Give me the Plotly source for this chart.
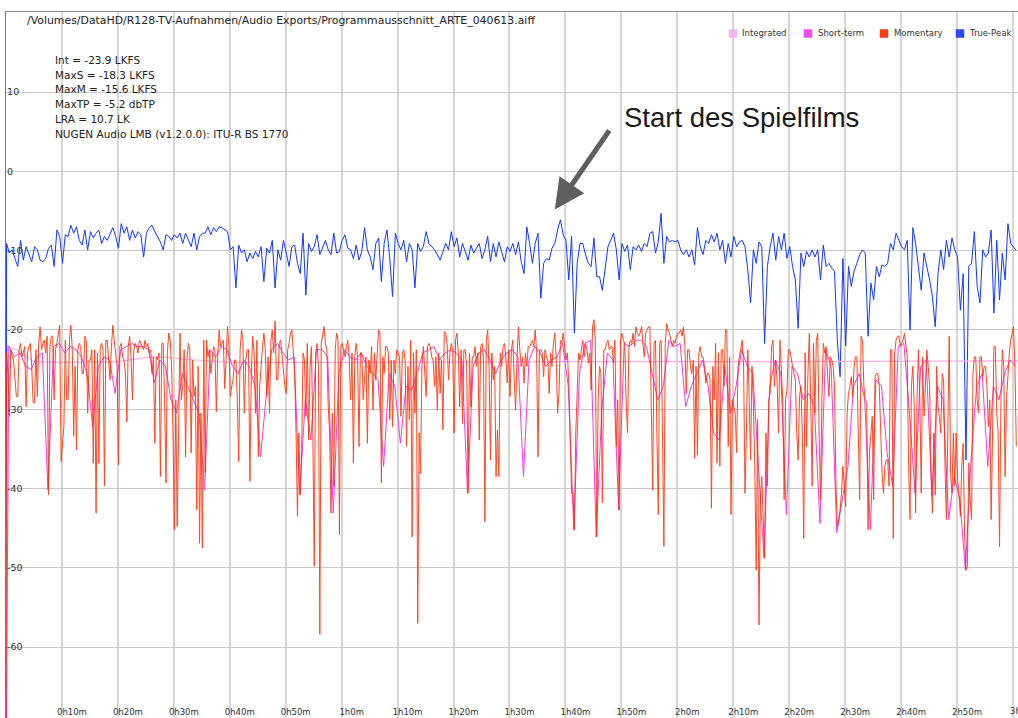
import plotly.graph_objects as go

# ---------------- text ----------------
TITLE = "/Volumes/DataHD/R128-TV-Aufnahmen/Audio Exports/Programmausschnitt_ARTE_040613.aiff"
STATS = ["Int = -23.9 LKFS", "MaxS = -18.3 LKFS", "MaxM = -15.6 LKFS",
         "MaxTP = -5.2 dbTP", "LRA = 10.7 LK", "NUGEN Audio LMB (v1.2.0.0): ITU-R BS 1770"]
SERIES = ["Integrated", "Short-term", "Momentary", "True-Peak"]
COLORS = ["#ffb0f0", "#f03ce0", "#ff2a00", "#1438ff"]
CALLOUT = "Start des Spielfilms"
FILM_START_MIN = 98.1
FILM_START_LEVEL = -4.8

X_TICK_VALS = [10, 20, 30, 40, 50, 60, 70, 80, 90, 100, 110, 120, 130, 140, 150, 160, 170, 180]
X_TICK_TEXT = ["0h10m", "0h20m", "0h30m", "0h40m", "0h50m", "1h0m", "1h10m", "1h20m", "1h30m",
               "1h40m", "1h50m", "2h0m", "2h10m", "2h20m", "2h30m", "2h40m", "2h50m", "3h0m"]
Y_TICK_VALS = [10, 0, -10, -20, -30, -40, -50, -60]
Y_TICK_TEXT = ["10", "0", "-10", "-20", "-30", "-40", "-50", "-60"]

# ---------------- data (minutes / dB) ----------------
START_LEVEL = -80.0   # meters start from silence

TP_STEP = 0.5   # minutes between true-peak readings
true_peak = [
    -9.1, -10.3, -9.9, -11.0, -12.0, -8.7, -11.2, -9.5, -10.5, -11.4, -9.5, -9.9, -11.2, -11.4, -11.0, -9.7, -9.3, -12.0, -7.4, -8.2,
    -11.6, -8.0, -8.2, -6.8, -7.8, -7.0, -8.7, -9.3, -7.4, -9.9, -7.6, -8.4, -7.8, -7.4, -9.1, -8.2, -8.7, -7.8, -7.1, -8.2,
    -9.7, -6.6, -7.8, -7.0, -8.7, -7.4, -8.4, -7.6, -8.0, -10.8, -7.8, -7.1, -6.8, -7.6, -8.2, -8.9, -9.9, -8.0, -8.2, -8.7,
    -8.0, -8.4, -7.8, -9.1, -7.8, -8.7, -9.5, -7.8, -9.9, -8.2, -7.8, -7.8, -7.0, -8.0, -7.1, -7.6, -7.0, -7.1, -7.4, -7.6,
    -9.9, -9.5, -14.7, -9.3, -10.3, -9.9, -11.4, -10.3, -11.0, -10.1, -10.8, -9.5, -13.9, -9.7, -10.3, -8.7, -14.7, -9.9, -11.2, -8.7,
    -10.3, -12.0, -9.5, -9.3, -11.6, -12.9, -7.8, -15.6, -9.1, -10.1, -9.5, -8.0, -10.5, -9.7, -8.7, -9.9, -10.5, -7.8, -10.3, -10.1,
    -8.7, -8.0, -9.7, -9.9, -11.0, -9.3, -11.2, -10.1, -7.1, -9.9, -10.8, -12.4, -9.1, -8.4, -13.9, -9.1, -7.4, -11.0, -15.8, -7.8,
    -9.1, -9.9, -8.7, -11.4, -9.1, -9.9, -14.7, -9.1, -10.1, -9.5, -7.6, -9.1, -9.5, -9.9, -10.5, -11.2, -10.1, -9.1, -9.9, -7.6,
    -9.5, -8.4, -10.8, -9.1, -10.1, -11.2, -9.3, -10.3, -9.7, -9.1, -11.0, -9.9, -8.2, -11.4, -9.1, -10.8, -8.9, -10.3, -11.4, -9.5,
    -10.1, -9.1, -10.5, -8.9, -11.4, -12.9, -7.0, -9.1, -11.6, -9.1, -7.8, -16.0, -11.6, -11.0, -11.2, -9.7, -9.1, -7.4, -6.1, -8.0,
    -8.7, -13.7, -8.2, -20.4, -11.6, -9.1, -9.1, -10.5, -11.6, -12.0, -8.4, -13.3, -13.3, -15.0, -12.0, -9.5, -8.7, -7.8, -9.9, -13.7,
    -9.1, -10.1, -9.3, -12.4, -9.5, -9.9, -9.3, -10.1, -9.1, -9.5, -7.8, -7.6, -10.3, -8.9, -5.3, -11.6, -8.2, -8.9, -8.7, -8.9,
    -8.7, -9.9, -10.5, -9.9, -10.8, -9.9, -11.8, -7.1, -9.5, -10.5, -8.7, -9.1, -8.0, -8.9, -7.8, -9.9, -8.7, -11.6, -9.1, -10.8,
    -8.2, -9.5, -8.9, -8.7, -9.5, -12.4, -16.6, -9.9, -11.6, -8.9, -9.5, -21.7, -12.0, -9.5, -7.8, -11.2, -8.2, -9.9, -7.8, -11.0,
    -9.5, -12.0, -13.7, -19.8, -10.3, -12.0, -10.1, -10.8, -9.9, -10.8, -9.9, -13.7, -9.3, -12.0, -11.6, -12.2, -12.6, -21.3, -25.9, -11.0,
    -22.0, -12.0, -14.5, -12.6, -11.6, -10.5, -9.9, -10.3, -20.8, -14.1, -16.2, -12.0, -13.3, -11.8, -12.0, -11.6, -9.1, -9.9, -7.8, -8.7,
    -9.5, -9.9, -8.7, -20.0, -7.1, -9.1, -12.0, -15.0, -10.3, -11.8, -13.7, -15.8, -19.6, -12.9, -9.9, -12.4, -8.7, -10.8, -8.4, -9.9,
    -10.8, -17.5, -12.9, -36.4, -12.0, -11.6, -7.6, -14.5, -16.6, -9.9, -10.8, -10.3, -7.4, -17.9, -8.7, -16.2, -10.3, -13.7, -6.6, -9.1,
    -9.6, -10.0,
]

M_STEP = 0.25   # minutes between momentary readings
momentary = [
    -22.9, -25.5, -30.9, -22.5, -23.4, -23.8, -26.3, -28.4, -28.4, -22.5, -21.7, -23.4, -22.9, -22.1, -29.7, -22.9, -22.1, -21.7, -24.6, -29.2,
    -29.2, -22.5, -28.4, -21.7, -19.6, -22.5, -21.7, -21.3, -22.9, -20.8, -40.8, -22.1, -20.8, -20.8, -28.8, -22.5, -21.7, -20.4, -19.4, -36.6,
    -34.7, -32.2, -21.3, -28.8, -28.8, -21.3, -19.4, -22.5, -33.4, -24.6, -35.1, -22.5, -21.7, -22.1, -25.5, -25.5, -20.8, -21.3, -30.5, -23.8,
    -23.8, -22.5, -36.8, -22.5, -43.1, -22.9, -36.8, -22.1, -21.7, -22.5, -39.7, -21.3, -21.3, -23.4, -26.3, -22.1, -19.4, -21.3, -23.4, -24.6,
    -37.0, -22.1, -21.7, -23.4, -23.8, -25.5, -31.6, -22.1, -20.8, -23.4, -28.8, -22.5, -21.7, -22.1, -22.9, -21.3, -21.7, -22.1, -22.5, -21.3,
    -22.1, -21.7, -22.9, -22.5, -25.5, -23.4, -34.3, -23.4, -23.8, -22.9, -38.5, -21.7, -21.7, -28.8, -39.3, -22.9, -20.4, -21.3, -24.6, -33.0,
    -45.2, -28.8, -44.8, -33.0, -20.4, -28.8, -27.1, -22.5, -36.0, -23.8, -21.7, -22.5, -35.5, -23.8, -28.4, -27.1, -42.7, -24.6, -46.9, -30.5,
    -47.5, -21.3, -38.0, -21.3, -23.4, -22.5, -25.5, -23.8, -22.1, -22.5, -30.3, -23.4, -20.0, -22.1, -21.7, -21.3, -27.4, -23.4, -19.6, -22.1,
    -28.4, -27.1, -26.3, -23.8, -23.8, -28.8, -36.6, -22.5, -20.0, -21.3, -30.5, -23.8, -22.5, -22.5, -39.1, -25.5, -20.8, -22.9, -30.5, -21.3,
    -36.0, -27.1, -23.8, -22.1, -20.4, -22.5, -28.4, -23.4, -30.5, -21.3, -20.0, -22.9, -18.9, -26.3, -26.3, -21.7, -21.3, -23.4, -25.5, -27.1,
    -28.0, -22.5, -21.7, -20.4, -20.0, -23.4, -25.5, -33.0, -43.5, -33.0, -40.8, -35.1, -22.9, -23.8, -30.9, -21.7, -33.9, -24.6, -22.1, -33.0,
    -49.8, -22.9, -21.7, -24.6, -58.4, -21.7, -20.4, -19.6, -21.7, -22.5, -29.7, -33.0, -43.1, -30.5, -39.7, -22.5, -20.4, -21.3, -45.8, -22.1,
    -21.7, -22.5, -23.4, -22.1, -21.3, -23.4, -28.8, -22.9, -36.8, -23.4, -21.7, -23.4, -34.7, -22.9, -22.9, -28.8, -25.5, -23.4, -34.3, -23.8,
    -25.5, -22.1, -30.1, -22.9, -26.3, -23.8, -20.0, -20.4, -39.3, -23.4, -25.5, -22.1, -22.1, -22.9, -31.3, -23.8, -32.2, -23.8, -25.5, -22.5,
    -22.9, -23.4, -30.9, -22.9, -22.5, -23.8, -34.7, -24.6, -31.3, -21.3, -46.1, -22.9, -30.5, -22.5, -57.0, -33.0, -38.1, -24.6, -22.1, -25.5,
    -28.4, -22.1, -21.7, -22.1, -23.4, -23.8, -27.1, -23.4, -30.1, -22.9, -28.0, -23.8, -32.6, -20.2, -20.4, -21.7, -26.3, -22.9, -21.7, -22.5,
    -33.0, -21.3, -20.4, -22.9, -29.7, -22.5, -31.8, -22.5, -22.5, -24.6, -40.6, -22.9, -29.7, -23.4, -23.4, -22.1, -24.6, -22.9, -33.9, -22.1,
    -21.7, -23.4, -44.2, -21.3, -20.0, -24.6, -36.4, -22.9, -26.3, -24.6, -38.5, -32.6, -38.5, -22.9, -24.6, -22.1, -21.7, -23.4, -26.7, -22.5,
    -28.4, -22.5, -21.3, -26.3, -30.1, -23.4, -19.6, -22.5, -24.6, -23.4, -26.7, -22.9, -24.6, -22.1, -22.1, -21.7, -21.3, -22.1, -20.0, -22.9,
    -36.0, -22.5, -22.5, -22.9, -25.9, -22.5, -23.4, -23.8, -28.0, -22.9, -24.6, -21.7, -20.4, -23.4, -30.5, -28.0, -21.3, -21.7, -20.4, -22.1,
    -23.8, -22.9, -26.7, -33.0, -40.6, -40.6, -45.2, -33.0, -28.0, -22.9, -23.8, -22.1, -21.3, -23.4, -21.7, -22.5, -24.2, -22.9, -27.6, -19.6,
    -18.7, -21.3, -46.1, -28.8, -24.6, -25.5, -41.8, -22.5, -22.5, -21.7, -21.3, -22.5, -22.1, -22.1, -24.2, -21.3, -34.7, -28.8, -42.7, -21.3,
    -20.4, -21.3, -21.7, -28.8, -33.0, -22.1, -21.3, -21.7, -20.4, -22.1, -19.6, -20.4, -20.8, -20.4, -19.6, -21.7, -23.4, -20.4, -20.0, -19.6,
    -19.6, -28.8, -40.2, -21.7, -21.3, -33.0, -43.3, -21.7, -21.3, -33.0, -47.3, -21.7, -19.2, -20.0, -20.4, -21.3, -22.1, -21.3, -21.7, -20.8,
    -20.4, -20.4, -20.0, -20.8, -19.6, -22.1, -28.0, -22.5, -22.5, -24.6, -25.5, -23.8, -36.2, -24.6, -35.8, -22.9, -22.1, -23.4, -23.4, -24.6,
    -26.7, -25.5, -25.5, -26.3, -42.5, -24.6, -28.8, -21.7, -36.8, -22.9, -37.2, -22.5, -22.5, -27.1, -20.0, -20.0, -34.7, -23.4, -43.3, -28.8,
    -29.7, -30.5, -35.5, -24.6, -23.4, -22.1, -21.3, -24.6, -40.6, -33.0, -22.5, -28.8, -36.4, -24.6, -29.2, -37.2, -50.3, -31.3, -57.2, -41.4,
    -38.5, -43.5, -48.8, -33.0, -39.7, -28.8, -28.0, -22.1, -21.3, -27.1, -23.8, -26.7, -33.0, -21.3, -24.6, -28.8, -41.4, -28.8, -27.6, -22.5,
    -22.5, -23.8, -24.6, -25.5, -26.3, -33.0, -36.4, -28.4, -27.1, -33.0, -46.3, -22.9, -34.7, -25.5, -20.4, -28.8, -39.7, -21.7, -30.5, -21.3,
    -20.4, -33.0, -41.4, -28.8, -21.7, -22.9, -22.1, -25.5, -28.4, -23.4, -23.8, -24.6, -27.1, -39.3, -44.8, -43.9, -42.7, -40.6, -37.2, -39.7,
    -42.3, -30.5, -28.0, -27.1, -25.9, -28.4, -24.6, -23.4, -23.4, -33.0, -41.4, -20.8, -21.3, -27.1, -28.8, -29.2, -45.2, -35.5, -33.0, -30.9,
    -41.4, -25.9, -25.5, -25.5, -27.1, -33.0, -38.1, -40.6, -37.2, -36.4, -36.4, -39.7, -22.5, -22.5, -46.3, -22.9, -21.3, -20.8, -20.8, -22.1,
    -21.7, -21.3, -20.4, -22.1, -23.4, -37.2, -43.9, -27.1, -24.6, -29.7, -43.1, -28.8, -22.5, -28.8, -40.6, -23.4, -30.9, -27.1, -22.5, -24.6,
    -27.1, -37.2, -43.1, -33.0, -40.8, -24.6, -29.7, -30.9, -33.0, -25.5, -26.3, -37.2, -43.9, -33.0, -20.8, -38.1, -40.6, -33.0, -39.7, -33.0,
    -38.9, -40.6, -43.5, -37.2, -34.3, -45.6, -50.3, -49.8, -36.8, -41.4, -43.9, -25.5, -23.4, -23.4, -28.8, -30.5, -23.4, -23.4, -25.9, -24.6,
    -24.6, -27.1, -32.2, -28.8, -43.9, -33.0, -22.1, -22.1, -30.5, -33.0, -47.3, -28.8, -22.5, -24.6, -38.5, -28.8, -25.5, -22.9, -21.3, -20.4,
    -19.6, -24.6, -34.7,
]

ST_STEP = 1.0   # minutes between short-term readings
short_term = [
    -22.1, -23.4, -22.9, -24.6, -25.0, -23.4, -22.9, -40.2, -22.1, -21.7,
    -22.9, -22.1, -22.5, -23.4, -25.5, -32.2, -24.6, -23.4, -23.8, -28.0,
    -22.5, -22.1, -21.7, -22.1, -22.1, -22.5, -26.7, -23.8, -24.6, -28.8,
    -30.5, -25.5, -27.1, -28.8, -30.5, -40.2, -22.5, -23.4, -22.1, -22.5,
    -24.6, -25.5, -23.8, -24.6, -27.1, -36.0, -28.4, -22.5, -21.7, -22.9,
    -23.8, -23.4, -40.8, -28.8, -33.9, -22.5, -22.5, -23.4, -43.1, -25.5,
    -22.5, -23.4, -23.8, -22.9, -24.6, -25.5, -26.3, -37.2, -25.5, -27.1,
    -34.3, -27.1, -27.6, -25.5, -22.9, -22.5, -22.1, -23.8, -22.9, -22.5,
    -22.9, -23.8, -40.6, -24.6, -22.9, -22.5, -23.8, -25.5, -23.8, -22.9,
    -22.5, -23.4, -38.5, -23.8, -22.1, -22.9, -24.6, -23.8, -23.4, -21.7,
    -27.1, -45.2, -25.5, -21.7, -21.3, -46.1, -30.1, -22.9, -23.8, -42.7,
    -21.7, -22.1, -21.3, -21.3, -22.1, -25.5, -28.8, -27.1, -21.3, -22.1,
    -21.7, -29.7, -27.1, -25.5, -23.8, -27.1, -33.0, -33.9, -24.6, -30.5,
    -27.1, -22.5, -24.6, -25.5, -37.2, -48.8, -27.1, -23.8, -25.5, -43.3,
    -24.6, -25.5, -28.8, -28.0, -29.7, -44.4, -22.5, -24.6, -45.6, -41.4,
    -37.2, -27.1, -25.5, -28.8, -45.2, -26.3, -27.1, -35.5, -39.7, -22.1,
    -21.7, -30.5, -40.6, -24.6, -23.8, -41.0, -27.1, -28.8, -43.9, -38.5,
    -41.4, -50.3, -36.4, -27.1, -25.5, -37.2, -27.1, -28.8, -25.5, -23.8, -24.6,
]

integrated_time = [0.0, 0.3, 2.0, 5.0, 10.0, 20.0, 26.0, 28.0, 32.0, 40.0, 60.0, 100.0, 140.0, 181.0]
integrated = [START_LEVEL, -22.0, -22.6, -24.0, -24.1, -24.0, -23.4, -23.4, -23.7, -24.1, -24.1, -24.0, -24.0, -23.9]


def sample_times(values, step, offset):
    return [0.0] + [offset + step * i for i in range(len(values))]


tp_time = sample_times(true_peak, TP_STEP, 0.1)
m_time = sample_times(momentary, M_STEP, 0.1)
st_time = sample_times(short_term, ST_STEP, 0.5)

# ---------------- figure ----------------
W, H = 1018, 718
ML, MR, MT, MB = 6, 0, 12, 0
PW, PH = W - ML - MR, H - MT - MB


def px(x):
    return (x - ML) / PW


def py(y):
    return 1 - (y - MT) / PH


FONT = "DejaVu Sans"
fig = go.Figure()
fig.add_trace(go.Scatter(x=tp_time, y=[START_LEVEL] + true_peak, mode="lines", name=SERIES[3],
                         line=dict(color=COLORS[3], width=1)))
fig.add_trace(go.Scatter(x=integrated_time, y=integrated, mode="lines", name=SERIES[0],
                         line=dict(color=COLORS[0], width=1.2)))
fig.add_trace(go.Scatter(x=st_time, y=[START_LEVEL] + short_term, mode="lines", name=SERIES[1],
                         line=dict(color=COLORS[1], width=1)))
fig.add_trace(go.Scatter(x=m_time, y=[START_LEVEL] + momentary, mode="lines", name=SERIES[2],
                         line=dict(color=COLORS[2], width=1), opacity=0.85))

fig.update_layout(
    width=W, height=H, margin=dict(l=ML, r=MR, t=MT, b=MB),
    paper_bgcolor="white", plot_bgcolor="white", showlegend=False,
    font=dict(family=FONT, color="#222"),
    xaxis=dict(range=[0, 180.9], tickvals=X_TICK_VALS, ticktext=X_TICK_TEXT,
               showgrid=True, gridcolor="#d6d6d6", gridwidth=1.5, zeroline=False,
               ticks="", ticklabelposition="inside", ticklabelshift=10,
               tickfont=dict(size=8.5, color="#333", family=FONT),
               showline=True, linecolor="#8a8a8a", linewidth=1, mirror=True),
    yaxis=dict(range=[-68.95, 20.1], tickvals=Y_TICK_VALS, ticktext=Y_TICK_TEXT,
               showgrid=True, gridcolor="#c8c8c8", gridwidth=1, zeroline=False,
               ticks="", ticklabelposition="inside",
               tickfont=dict(size=9.5, color="#333", family=FONT),
               showline=True, linecolor="#777", linewidth=1),
)

ann = []
ann.append(dict(x=px(25), y=py(20.5), xref="paper", yref="paper", text=TITLE, showarrow=False,
                xanchor="left", yanchor="middle", font=dict(size=10.9, family=FONT, color="#222")))
for s, yy in zip(STATS, [60.0, 74.5, 89.2, 103.8, 118.7, 133.5]):
    ann.append(dict(x=px(53), y=py(yy), xref="paper", yref="paper", text=s, showarrow=False,
                    xanchor="left", yanchor="middle", font=dict(size=10.5, family=FONT, color="#222")))

# last time label sits on the right edge of the window and is cut off there
ann.append(dict(x=X_TICK_VALS[-1], y=py(711), xref="x", yref="paper", text=X_TICK_TEXT[-1],
                showarrow=False, xanchor="left", yanchor="middle", xshift=-5,
                font=dict(size=8.5, family=FONT, color="#333")))

shapes = []
for name, col, sx, tx in zip(SERIES, COLORS, [729, 804, 880, 956], [740, 816, 892, 967]):
    shapes.append(dict(type="rect", xref="paper", yref="paper", x0=px(sx), x1=px(sx + 8),
                       y0=py(37.5), y1=py(29.5), fillcolor=col, line=dict(color=col, width=0.5), opacity=0.9))
    ann.append(dict(x=px(tx), y=py(33.5), xref="paper", yref="paper", text=name, showarrow=False,
                    xanchor="left", yanchor="middle", font=dict(size=8.5, family=FONT, color="#333")))

ann.append(dict(x=px(622), y=py(117), xref="paper", yref="paper", text=CALLOUT, showarrow=False,
                xanchor="left", yanchor="middle", font=dict(size=27.5, family="Liberation Sans", color="#1a1a1a")))
ann.append(dict(x=FILM_START_MIN, y=FILM_START_LEVEL, xref="x", yref="y", text=" ", showarrow=True,
                ax=58, ay=-84, arrowhead=2, arrowsize=1.2, arrowwidth=5, arrowcolor="#5e5e5e", standoff=0))

fig.update_layout(annotations=ann, shapes=shapes)
fig.write_html("out.html", config={"displayModeBar": False},
               post_script="document.body.style.margin='0';document.body.style.overflow='hidden';")
